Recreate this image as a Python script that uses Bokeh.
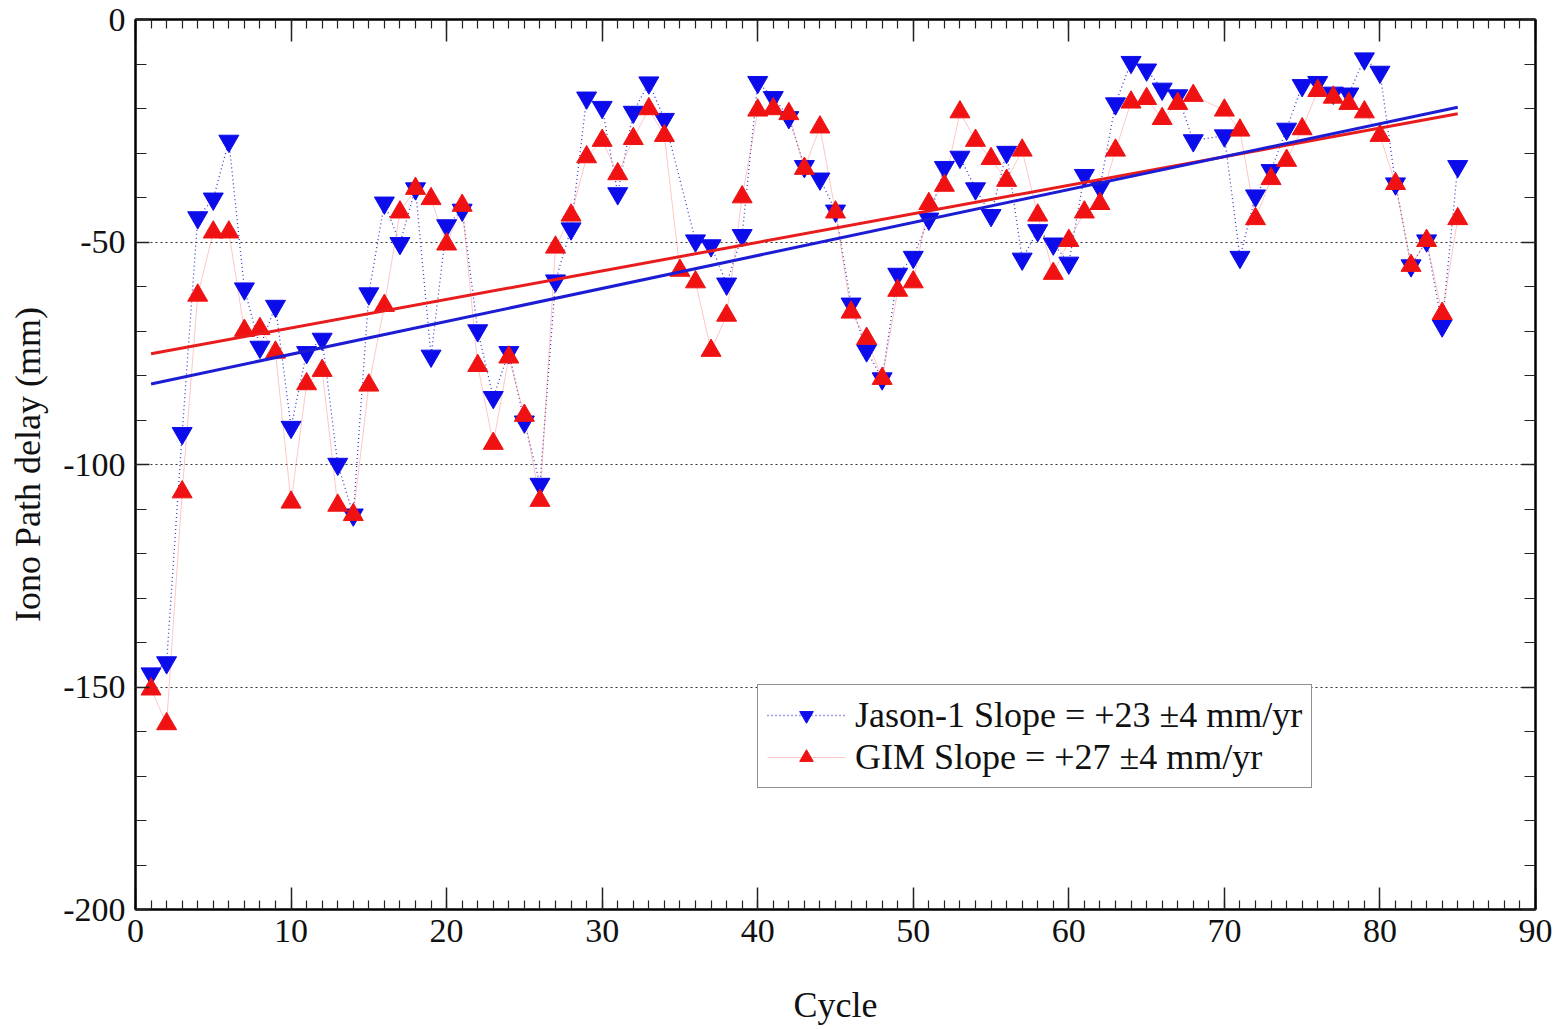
from bokeh.plotting import figure
from bokeh.models import (Range1d, LinearAxis, SingleIntervalTicker, FixedTicker,
                          Legend, LegendItem, CustomJSTickFormatter)
from bokeh.embed import file_html
from bokeh.resources import INLINE

# ---------------- data ----------------
cycles = list(range(1, 86))
jason = [-147, -144.5, -93, -44.5, -40.3, -27.3, -60.5, -73.6, -64.4, -91.6,
         -74.8, -71.8, -99.9, -111.3, -61.6, -41.2, -50.3, -38, -75.6, -46.3,
         -42.8, -69.9, -84.9, -74.8, -90.4, -104.4, -58.7, -47, -17.6, -19.7,
         -39.1, -20.8, -14.2, -22.4, None, -49.7, -50.8, -59.4, -48.5, -14.1,
         -17.5, -22, -33, -35.8, -43, -63.9, -74.4, -80.7, -57.2, -53.4,
         -44.8, -33.2, -30.9, -38, -44, -29.8, -53.8, -47.4, -50.4, -54.7,
         -35, -37.7, -18.9, -9.6, -11.3, -15.6, -17.1, -27.2, None, -26.1,
         -53.4, -39.6, -33.9, -24.6, -14.8, -14.1, -16.5, -16.7, -8.8, -11.8,
         -36.9, -55.3, -49.7, -68.8, -33]
gim = [-150.5, -158.3, -106.2, -62, -47.8, -47.8, -69.9, -69.5, -74.8, -108.5,
       -81.9, -78.9, -109.2, -111.3, -82.2, -64.3, -43.3, -38, -40.3, -50.5,
       -41.8, -77.8, -95.3, -75.9, -89, -108.1, -51.2, -44, -30.9, -27.2,
       -34.7, -26.8, -20.1, -26.1, -56.4, -59, -74.4, -66.5, -39.9, -20.4,
       -20.1, -21.2, -33.5, -24.2, -43.3, -65.8, -71.7, -80.7, -60.9, -59,
       -41.4, -37.3, -20.8, -27.2, -31.3, -36.2, -29.4, -44, -57.1, -49.7,
       -43.3, -41.4, -29.4, -18.6, -17.8, -22.3, -18.9, -17.1, None, -20.4,
       -24.9, -44.8, -35.8, -31.7, -24.6, -16, -17.5, -18.9, -20.8, -26.1,
       -36.9, -55.3, -49.7, -66.1, -44.8]

trend_x = [1, 85]
jason_trend = [-81.9, -19.7]
gim_trend = [-75.1, -21.2]

jason_label = "Jason-1 Slope = +23 \u00b14 mm/yr"
gim_label = "GIM Slope = +27 \u00b14 mm/yr"
x_title = "Cycle"
y_title = "Iono Path delay (mm)"
grid_levels = [-150, -100, -50]

# drop missing cycles
jx = [c for c, v in zip(cycles, jason) if v is not None]
jy = [v for v in jason if v is not None]
gx = [c for c, v in zip(cycles, gim) if v is not None]
gy = [v for v in gim if v is not None]

FONT = "Liberation Serif"
BLUE = "#0c0ceb"
RED = "#f01212"

p = figure(width=1566, height=1029, output_backend="svg", toolbar_location=None,
           x_range=Range1d(0, 90), y_range=Range1d(-200, 0),
           min_border_left=135, min_border_right=31, min_border_top=19,
           min_border_bottom=120, x_axis_label=x_title, y_axis_label=y_title)
p.background_fill_color = "white"
p.border_fill_color = "white"
p.outline_line_color = "black"
p.outline_line_width = 2
p.outline_line_alpha = 1

bottom_ax = p.below[0]
left_ax = p.left[0]
bottom_ax.ticker = SingleIntervalTicker(interval=10, num_minor_ticks=10)
left_ax.ticker = SingleIntervalTicker(interval=50, num_minor_ticks=5)
bottom_ax.formatter = CustomJSTickFormatter(code="return tick.toFixed(0)")
left_ax.formatter = CustomJSTickFormatter(code="return tick.toFixed(0)")

top_ax = LinearAxis(ticker=SingleIntervalTicker(interval=10, num_minor_ticks=10),
                    formatter=CustomJSTickFormatter(code="return ''"))
right_ax = LinearAxis(ticker=SingleIntervalTicker(interval=50, num_minor_ticks=5),
                      formatter=CustomJSTickFormatter(code="return ''"))
p.add_layout(top_ax, "above")
p.add_layout(right_ax, "right")

for ax in [bottom_ax, top_ax]:
    ax.major_tick_in = 22
    ax.minor_tick_in = 9
for ax in [left_ax, right_ax]:
    ax.major_tick_in = 14
    ax.minor_tick_in = 11
for ax in [bottom_ax, left_ax, top_ax, right_ax]:
    ax.major_tick_out = 0
    ax.minor_tick_out = 0
    ax.axis_line_color = "black"
    ax.axis_line_width = 2
    ax.major_tick_line_color = "#222"
    ax.major_tick_line_width = 1.5
    ax.minor_tick_line_color = "#222"
    ax.minor_tick_line_width = 1.2
    ax.major_label_text_font = FONT
    ax.major_label_text_font_size = "34px"
    ax.major_label_text_color = "#111"
    ax.major_label_standoff = 10
    ax.axis_label_text_font = FONT
    ax.axis_label_text_font_size = "36px"
    ax.axis_label_text_font_style = "normal"
    ax.axis_label_text_color = "#111"
for ax in [top_ax, right_ax]:
    ax.major_label_text_font_size = "1px"
    ax.major_label_standoff = 0
bottom_ax.axis_label_standoff = 40
bottom_ax.axis_label_text_line_height = 0.9
left_ax.axis_label_standoff = 12

p.xgrid.visible = False
p.ygrid.ticker = FixedTicker(ticks=grid_levels)
p.ygrid.grid_line_color = "#333"
p.ygrid.grid_line_dash = "2 3"
p.ygrid.grid_line_width = 1.2

# connecting lines
bl = p.line(jx, jy, line_color="#3a3ad0", line_width=1.3, line_dash="1 3")
rl = p.line(gx, gy, line_color="#ff8080", line_width=1, line_alpha=0.45)
# markers
bm = p.scatter(jx, jy, marker="inverted_triangle", size=20, fill_color=BLUE,
               line_color=BLUE, line_width=1)
rm = p.scatter(gx, gy, marker="triangle", size=20, fill_color=RED,
               line_color=RED, line_width=1)
# trend lines
p.line(trend_x, gim_trend, line_color="#e81c1c", line_width=3)
p.line(trend_x, jason_trend, line_color="#1c1cd4", line_width=3)

legend = Legend(items=[LegendItem(label=jason_label, renderers=[bl, bm]),
                       LegendItem(label=gim_label, renderers=[rl, rm])],
                location=(622, 121))
legend.border_line_color = "#222"
legend.border_line_width = 1.5
legend.background_fill_color = "white"
legend.background_fill_alpha = 1
legend.label_text_font = FONT
legend.label_text_font_size = "36px"
legend.label_text_color = "#111"
legend.glyph_width = 78
legend.glyph_height = 34
legend.label_height = 34
legend.label_standoff = 10
legend.padding = 9
legend.spacing = 0
legend.margin = 0
p.add_layout(legend, "center")

open("out.html", "w").write(file_html(p, INLINE))
